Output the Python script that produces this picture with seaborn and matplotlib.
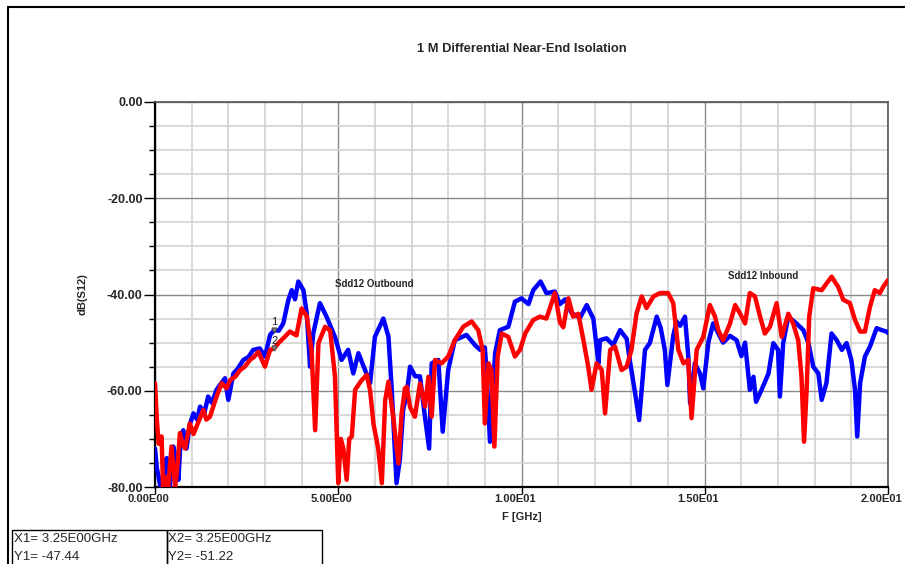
import numpy as np
import pandas as pd
import matplotlib
matplotlib.use("Agg")
import matplotlib.pyplot as plt
import matplotlib.transforms as mtransforms
from matplotlib.lines import Line2D
from matplotlib.patches import Rectangle
import seaborn as sns

title = "1 M Differential Near-End Isolation"
series_names = ["Sdd12 Outbound", "Sdd12 Inbound"]

out_freq = [0.0,0.05,0.15,0.25,0.32,0.4,0.5,0.57,0.64,0.7,0.77,0.86,0.95,1.05,1.15,1.23,1.35,1.45,1.55,1.68,
            1.8,1.91,2.0,2.14,2.25,2.41,2.55,2.68,2.86,3.0,3.14,3.25,3.38,3.5,3.64,3.73,3.82,3.91,4.05,4.14,
            4.23,4.32,4.5,4.68,4.91,5.09,5.27,5.41,5.55,5.73,5.87,6.0,6.23,6.37,6.46,6.59,6.68,6.77,6.87,6.96,
            7.1,7.23,7.37,7.48,7.55,7.73,7.85,8.0,8.18,8.5,8.73,8.87,9.0,9.05,9.14,9.28,9.41,9.64,9.82,10.0,
            10.19,10.32,10.52,10.68,10.91,11.05,11.19,11.37,11.6,11.78,11.96,12.1,12.14,12.32,12.5,12.69,12.87,12.96,13.1,13.21,
            13.37,13.5,13.69,13.8,13.91,13.98,14.14,14.23,14.33,14.46,14.55,14.6,14.73,14.87,14.96,15.1,15.23,15.37,15.5,15.69,
            15.87,16.0,16.1,16.23,16.33,16.4,16.55,16.74,16.87,17.0,17.05,17.14,17.28,17.5,17.69,17.83,17.96,18.1,18.19,18.32,
            18.46,18.6,18.74,18.87,19.0,19.1,19.16,19.24,19.37,19.51,19.69,19.83,19.96,20.0]
out_db = [-72,-76,-80,-77,-74,-80,-71.6,-74,-78.5,-70,-68.2,-72,-67,-64.7,-66,-63.3,-64.5,-61.2,-62.5,-59.8,
          -58.5,-57.4,-61.9,-56.4,-55.5,-53.6,-53,-51.5,-51.2,-52.9,-48.4,-47.44,-47.5,-46,-41.1,-39.1,-41,-37.3,-39.1,-43.9,
          -55,-48,-41.8,-44.6,-48.8,-53.6,-51.5,-56.4,-52.2,-55.7,-58.4,-48.8,-45,-48.8,-59.8,-79.2,-74.4,-64,-60.5,-55,
          -57,-57,-65.7,-72,-54.3,-53.6,-68.5,-55.7,-49.5,-48.4,-50.5,-51.5,-51,-56.4,-70.6,-52.2,-47.4,-46.7,-41.5,-40.8,
          -42,-39.1,-37.3,-39.7,-39.4,-42,-41,-43.9,-44.8,-42.2,-45,-54.3,-49.5,-49.1,-50.5,-47.4,-49.2,-53.9,-60.5,-66.1,
          -51.5,-50.1,-44.6,-47,-51.5,-58.8,-48.6,-45.6,-46.5,-44.6,-52.8,-62.6,-54.3,-56.4,-59.5,-49.9,-46,-48.1,-50,-48.6,
          -49.5,-52.8,-50,-59.8,-57.1,-62.3,-59.8,-56.4,-50.1,-51.5,-61.2,-50.1,-44.6,-46,-47.4,-50.1,-55,-56.4,-61.9,-58.4,
          -48.1,-49.5,-51.5,-50.1,-53.6,-59.8,-69.5,-58.4,-52.9,-50.8,-47,-47.4,-47.7,-48]

in_freq = [0.0,0.05,0.1,0.18,0.22,0.3,0.36,0.45,0.55,0.62,0.68,0.75,0.82,0.95,1.05,1.14,1.32,1.4,1.5,1.68,
           1.82,1.95,2.05,2.2,2.32,2.45,2.59,2.7,2.82,3.0,3.14,3.25,3.38,3.5,3.68,3.86,4.0,4.14,4.27,4.37,
           4.46,4.64,4.78,4.91,5.0,5.07,5.14,5.23,5.3,5.37,5.46,5.64,5.78,5.87,5.96,6.09,6.19,6.28,6.37,6.5,
           6.64,6.73,6.82,6.87,6.96,7.09,7.23,7.37,7.46,7.55,7.64,7.82,8.0,8.18,8.41,8.64,8.82,8.94,9.0,9.1,
           9.18,9.26,9.35,9.46,9.64,9.82,9.96,10.1,10.32,10.5,10.68,10.91,11.05,11.14,11.28,11.41,11.55,11.69,11.82,11.91,
           12.05,12.19,12.28,12.42,12.55,12.73,12.87,13.0,13.14,13.28,13.41,13.6,13.78,14.0,14.14,14.28,14.42,14.55,14.64,14.78,
           14.96,15.14,15.28,15.37,15.5,15.69,15.83,15.96,16.1,16.23,16.37,16.51,16.64,16.78,16.96,17.1,17.28,17.41,17.55,17.64,
           17.71,17.78,17.85,17.96,18.19,18.46,18.64,18.78,18.96,19.1,19.24,19.37,19.51,19.64,19.78,19.87,20.0]
in_db = [-58.4,-66,-71,-69.5,-80,-78,-80,-71.6,-80,-75,-68.8,-71,-72,-66.8,-69,-67.3,-64,-66,-65.4,-61.2,
         -58.4,-59.5,-57.8,-57,-55.7,-55,-53.6,-53,-51.9,-55,-51.5,-51.22,-50,-49.1,-47.7,-48.5,-42.9,-44.5,-51.5,-68.2,
         -50.1,-46.7,-47.5,-57,-79.2,-70,-72,-78.5,-70,-69.5,-59.8,-57.8,-56.7,-60,-66.8,-72,-79.2,-62,-58.1,-65.4,
         -75.1,-64.7,-59.5,-59.2,-63.4,-65.4,-58.5,-63.3,-57.1,-65.4,-53.6,-54.3,-52.9,-49.5,-46.7,-45.6,-47.4,-51.5,-66.8,-54.3,
         -55.7,-71.6,-52.9,-48.1,-48.8,-52.9,-51.5,-48.1,-45.3,-44.6,-45,-39.7,-45.8,-46.8,-40.8,-44.6,-44,-49.5,-55,-59.8,
         -54.3,-55.7,-64.7,-51.5,-50.8,-55.7,-55,-51.5,-43.9,-40.4,-42.8,-40.4,-39.7,-39.7,-41.8,-51.5,-54.3,-53.6,-65.7,-51.5,
         -48.8,-42.2,-44.6,-47.4,-49.5,-46,-42.2,-43.9,-46,-39.7,-40.4,-44.6,-48.1,-46.7,-41.8,-48.8,-44,-46,-49.5,-57.1,
         -70.6,-59.8,-44.6,-38.7,-39.1,-36.3,-38.4,-41.1,-41.8,-45.3,-47.7,-47.7,-42.5,-39.1,-39.7,-38.4,-37]

y_ticks = [0, -20, -40, -60, -80]
y_tick_labels = ["0.00", "-20.00", "-40.00", "-60.00", "-80.00"]
x_ticks = [0, 5, 10, 15, 20]
x_tick_labels = ["0.00E00", "5.00E00", "1.00E01", "1.50E01", "2.00E01"]

marker_freq = 3.25
marker_vals = [-47.44, -51.22]
marker_text = [["X1= 3.25E00GHz", "Y1= -47.44"], ["X2= 3.25E00GHz", "Y2= -51.22"]]

df = pd.concat([
    pd.DataFrame({"F": out_freq, "dB": out_db, "series": series_names[0]}),
    pd.DataFrame({"F": in_freq, "dB": in_db, "series": series_names[1]}),
], ignore_index=True)

sns.set_style("white")
plt.rcParams["font.family"] = ["Liberation Sans", "DejaVu Sans"]

W, H = 905, 564
fig = plt.figure(figsize=(W / 100, H / 100), dpi=100)
ax = fig.add_axes([155 / W, 1 - 487 / H, (888 - 155) / W, (487 - 102) / H])

# grid
for v in range(21):
    major = v % 5 == 0
    ax.axvline(v, color="#8a8a8a" if major else "#d2d2d2", lw=1.0 if major else 1.2, zorder=0)
for v in range(0, -81, -5):
    major = v % 20 == 0
    ax.axhline(v, color="#8a8a8a" if major else "#d2d2d2", lw=1.0 if major else 1.2, zorder=0)

sns.lineplot(data=df, x="F", y="dB", hue="series", hue_order=series_names,
             palette={series_names[0]: "#0000ff", series_names[1]: "#ff0000"},
             estimator=None, sort=False, legend=False, lw=3.2, ax=ax, zorder=3)

ax.set_xlim(0, 20)
ax.set_ylim(-80, 0)
ax.set_xticks(x_ticks)
ax.set_xticklabels(x_tick_labels, fontsize=8, fontweight="bold")
ax.set_yticks(y_ticks)
ax.set_yticklabels(y_tick_labels, fontsize=9, fontweight="bold")
ax.set_yticks(list(range(0, -81, -5)), minor=True)
ax.tick_params(axis="y", which="major", length=8, width=1, color="black", pad=1, left=True)
ax.tick_params(axis="y", which="minor", length=4, width=1, color="black", left=True)
ax.tick_params(axis="x", which="major", length=5, width=1, color="black", pad=0, bottom=True)
shift = mtransforms.ScaledTranslation(-7 / 100, 0, fig.dpi_scale_trans)
for lbl in ax.get_xticklabels():
    lbl.set_transform(lbl.get_transform() + shift)
ax.set_xlabel("F [GHz]", fontsize=8, fontweight="bold", labelpad=6)
ax.set_ylabel("dB(S12)", fontsize=8, fontweight="bold", labelpad=14)

for s in ["left", "bottom"]:
    ax.spines[s].set_color("black")
    ax.spines[s].set_linewidth(1.6)
for s in ["top", "right"]:
    ax.spines[s].set_color("#555555")
    ax.spines[s].set_linewidth(1.2)

# annotations
ax.text(4.91, -37.8, series_names[0], fontsize=7, fontweight="bold", va="center", ha="left", zorder=5)
ax.text(15.63, -36.2, series_names[1], fontsize=7, fontweight="bold", va="center", ha="left", zorder=5)

# markers
ax.plot([marker_freq] * 2, marker_vals, ls="none", marker="v", ms=3.5, color="#999999",
        markeredgecolor="#555555", zorder=6)
for lbl, v in zip(["1", "2"], marker_vals):
    ax.text(marker_freq, v + 0.6, lbl, fontsize=8, ha="center", va="bottom", color="#222222", zorder=6)

ax.set_title(title, fontsize=9.3, fontweight="bold", pad=36)

# outer frame (left and top lines)
fig.add_artist(Line2D([8 / W, 8 / W], [0, 1 - 7 / H], color="black", lw=1.5, transform=fig.transFigure))
fig.add_artist(Line2D([8 / W, 1], [1 - 7 / H, 1 - 7 / H], color="black", lw=1.5, transform=fig.transFigure))

# marker table
for i, col in enumerate(marker_text):
    x0 = (12 + 155 * i) / W
    fig.add_artist(Rectangle((x0, -0.02), 155 / W, 0.02 + 1 - 530 / H, fill=False,
                             edgecolor="black", lw=1.0, transform=fig.transFigure))
    fig.text(x0 + 1.5 / W, 1 - 539 / H, col[0], fontsize=9.5, va="center", ha="left")
    fig.text(x0 + 1.5 / W, 1 - 557 / H, col[1], fontsize=9.5, va="center", ha="left")

fig.savefig("out.png", dpi=100)
